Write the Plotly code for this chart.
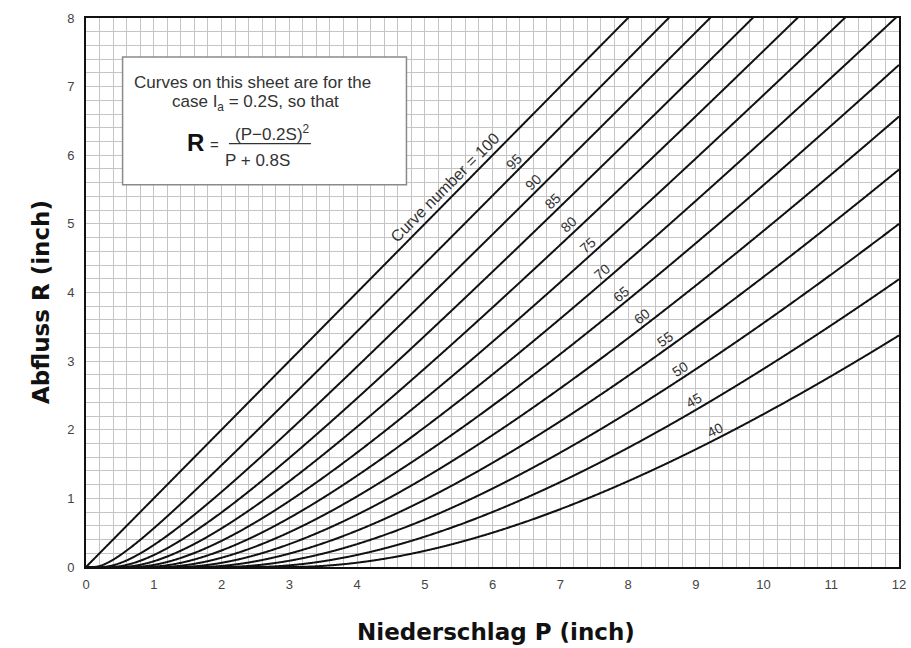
import numpy as np
import plotly.graph_objects as go

# Curve numbers drawn on the sheet
curve_numbers = [100, 95, 90, 85, 80, 75, 70, 65, 60, 55, 50, 45, 40]
# Precipitation at which each curve carries its label
label_p = [5.30, 6.31, 6.60, 6.89, 7.13, 7.41, 7.61, 7.90, 8.21, 8.55, 8.77, 8.98, 9.28]
label_text = ["Curve number = 100", "95", "90", "85", "80", "75", "70",
              "65", "60", "55", "50", "45", "40"]
x_ticks = list(range(0, 13))
y_ticks = list(range(0, 9))

P = np.linspace(0, 12, 1201)


def runoff(p, cn):
    # R = (P - 0.2S)^2 / (P + 0.8S) with S = 1000/CN - 10, zero below Ia
    s = 1000.0 / cn - 10.0
    ia = 0.2 * s
    return np.where(p > ia, (p - ia) ** 2 / (p + 0.8 * s), 0.0)


def slope(p, cn):
    s = 1000.0 / cn - 10.0
    ia = 0.2 * s
    if p <= ia:
        return 0.0
    return (p - ia) * (p + 1.8 * s) / (p + 0.8 * s) ** 2


fig = go.Figure()
for cn in curve_numbers:
    r = runoff(P, cn)
    mask = r <= 8.02
    fig.add_trace(go.Scatter(x=P[mask], y=r[mask], mode="lines",
                             line=dict(color="#111111", width=2, simplify=False),
                             showlegend=False, hoverinfo="skip"))

# pixel size of one data unit along x and y
px_x = 820 / 12
px_y = 549 / 8
for cn, lp, txt in zip(curve_numbers, label_p, label_text):
    theta = np.arctan(slope(lp, cn) * px_y / px_x)
    gap = 11 if cn == 100 else 9
    fig.add_annotation(x=lp, y=float(runoff(np.array(lp), cn)), text=txt,
                       showarrow=False, textangle=-np.degrees(theta),
                       yshift=gap / np.cos(theta),
                       font=dict(family="Liberation Sans, Arial",
                                 size=16 if cn == 100 else 14, color="#333333"))

# Explanatory box
fig.add_shape(type="rect", x0=0.54, x1=4.73, y0=5.57, y1=7.43,
              line=dict(color="#8a8a8a", width=1.5), fillcolor="white", layer="above")
note_font = dict(family="Liberation Sans, Arial", size=17, color="#333333")
fig.add_annotation(x=2.46, y=7.06, text="Curves on this sheet are for the",
                   showarrow=False, font=note_font)
fig.add_annotation(x=2.50, y=6.76, text="case I<sub>a</sub> = 0.2S, so that",
                   showarrow=False, font=note_font)
fig.add_annotation(x=1.61, y=6.18, text="<b>R</b>", showarrow=False,
                   font=dict(family="Liberation Sans, Arial", size=24, color="#111111"))
fig.add_annotation(x=1.90, y=6.15, text="=", showarrow=False,
                   font=dict(family="Liberation Sans, Arial", size=15, color="#333333"))
fig.add_annotation(x=2.75, y=6.33, text="(P\u22120.2S)<sup>2</sup>", showarrow=False,
                   font=note_font)
fig.add_shape(type="line", x0=2.11, x1=3.32, y0=6.17, y1=6.17,
              line=dict(color="#333333", width=1.2), layer="above")
fig.add_annotation(x=2.53, y=5.92, text="P + 0.8S", showarrow=False, font=note_font)

# Axis titles
title_font = dict(family="DejaVu Sans", size=23, color="#111111")
fig.add_annotation(xref="paper", yref="paper", x=0.504, y=-0.118,
                   xanchor="center", yanchor="middle",
                   text="<b>Niederschlag P (inch)</b>",
                   showarrow=False, font=title_font)
fig.add_annotation(xref="paper", yref="paper", x=-0.055, y=0.483,
                   xanchor="center", yanchor="middle",
                   text="<b>Abfluss R (inch)</b>", textangle=-90, showarrow=False,
                   font=title_font)

grid_color = "#c4c4c4"
tick_font = dict(family="Liberation Sans, Arial", size=13, color="#444444")
fig.update_xaxes(range=[0, 12], tickvals=x_ticks, ticktext=[str(v) for v in x_ticks],
                 showgrid=True, gridcolor=grid_color, gridwidth=1.2,
                 minor=dict(dtick=0.2, tick0=0, showgrid=True, gridcolor=grid_color, gridwidth=1),
                 showline=True, linecolor="#111111", linewidth=1.6, mirror=True,
                 zeroline=False, ticks="", ticklabelstandoff=5, tickfont=tick_font,
                 ticklabeloverflow="allow")
fig.update_yaxes(range=[0, 8], tickvals=y_ticks, ticktext=[str(v) for v in y_ticks],
                 showgrid=True, gridcolor=grid_color, gridwidth=1.2,
                 minor=dict(dtick=0.2, tick0=0, showgrid=True, gridcolor=grid_color, gridwidth=1),
                 showline=True, linecolor="#111111", linewidth=1.6, mirror=True,
                 zeroline=False, ticks="", ticklabelstandoff=7, tickfont=tick_font,
                 ticklabeloverflow="allow")

fig.update_layout(width=911, height=648,
                  margin=dict(l=86, r=5, t=18, b=81),
                  paper_bgcolor="white", plot_bgcolor="white",
                  showlegend=False)

fig.write_html("out.html")
